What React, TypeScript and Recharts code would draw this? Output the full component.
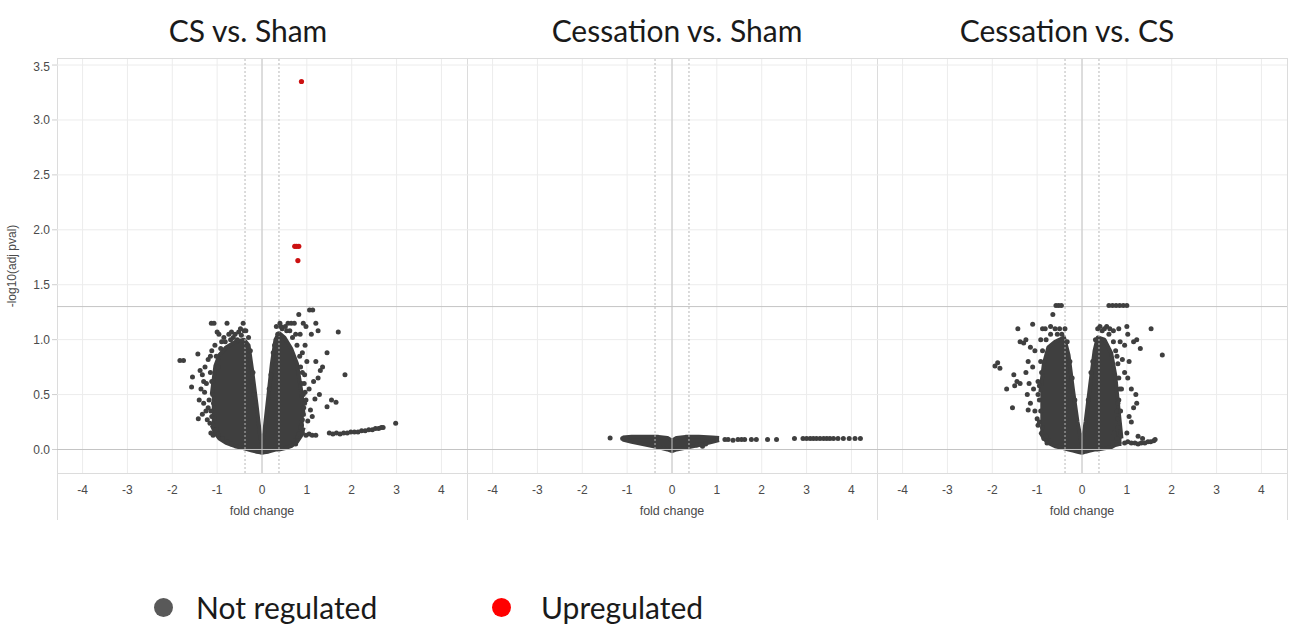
import React from 'react';
import {
  ComposedChart,
  Area,
  Scatter,
  XAxis,
  YAxis,
  CartesianGrid,
  ReferenceLine,
} from 'recharts';

// axis setup
const X_TICKS = [-4, -3, -2, -1, 0, 1, 2, 3, 4];
const Y_TICKS = [0, 0.5, 1, 1.5, 2, 2.5, 3, 3.5];
const X_DOMAIN = [-4.57, 4.57];
const Y_DOMAIN = [-0.214, 3.555];
const FC_CUT = 0.3785; // log2(1.3)
const P_CUT = 1.301; // -log10(0.05)

const panelTitles = ['CS vs. Sham', 'Cessation vs. Sham', 'Cessation vs. CS'];

// dense core of each cloud: [fold change, low, high]
const csShamCore = [
  [-1.12, 0.22, 0.5], [-1.04, 0.15, 0.76], [-0.95, 0.1, 0.86], [-0.8, 0.06, 0.93],
  [-0.6, 0.03, 0.98], [-0.4, 0.01, 1.0], [-0.3, 0.0, 0.95], [-0.22, -0.01, 0.72],
  [-0.12, -0.02, 0.4], [-0.04, -0.025, 0.12], [0, -0.03, 0.05], [0.05, -0.025, 0.15],
  [0.14, -0.02, 0.48], [0.22, -0.01, 0.78], [0.3, 0.0, 1.0], [0.38, 0.0, 1.06],
  [0.5, 0.01, 1.02], [0.65, 0.03, 0.92], [0.78, 0.07, 0.78], [0.88, 0.13, 0.52],
  [0.93, 0.2, 0.3],
];

// individual genes around the core: [fold change, -log10 p]
const csShamNot = [
  [-1.83, 0.81], [-1.75, 0.81], [-1.43, 0.87], [-1.55, 0.66], [-1.57, 0.57], [-1.42, 0.28],
  [-1.16, 0.24], [-1.14, 0.15], [-1.09, 0.13], [-1.38, 0.72], [-1.33, 0.68], [-1.3, 0.62],
  [-1.36, 0.55], [-1.28, 0.52], [-1.4, 0.45], [-1.3, 0.42], [-1.25, 0.35], [-1.33, 0.32],
  [-1.22, 0.27], [-1.27, 0.75], [-1.2, 0.82], [-1.24, 0.6], [-1.18, 0.45], [-1.2, 0.38],
  [-1.12, 0.3], [-1.08, 0.22], [-1.02, 0.18], [-0.97, 0.14],
  [-1.15, 0.7], [-1.12, 0.62], [-1.1, 0.5], [-1.08, 0.42], [-1.14, 0.35], [-1.06, 0.28],
  [-0.98, 0.75], [-1.02, 0.85], [-0.92, 0.92], [-0.82, 0.98], [-0.64, 1.02], [-0.48, 1.1],
  [-0.4, 1.08], [-0.34, 0.95], [-0.28, 0.82], [-0.23, 0.62], [-0.18, 0.5], [-0.15, 0.4],
  [-0.88, 0.1], [-0.78, 0.07], [-0.68, 0.05],
  [-1.13, 1.15], [-1.07, 1.15], [-0.78, 1.15], [-0.42, 1.15], [-1.0, 1.07], [-0.96, 1.05],
  [-0.74, 1.05], [-0.68, 1.07], [-0.6, 1.05], [-0.52, 1.07], [-0.46, 1.04], [-0.85, 1.02],
  [-0.9, 0.98], [-1.05, 0.95], [-1.12, 0.9], [-1.15, 0.85], [-0.7, 1.0], [-0.55, 1.0],
  [-0.36, 1.08], [-0.3, 1.02], [-0.26, 0.9], [-0.2, 0.7],
  [0.58, 1.15], [0.65, 1.15], [0.72, 1.15], [0.82, 1.23], [1.06, 1.27], [1.13, 1.27],
  [0.92, 1.15], [0.98, 1.12], [1.2, 1.15], [1.25, 1.08], [0.45, 1.1], [0.4, 1.15],
  [0.52, 1.12], [0.62, 1.08], [0.75, 1.05], [0.85, 1.05], [1.1, 1.05], [0.35, 1.05],
  [0.28, 0.95],
  [0.32, 1.12], [0.42, 1.12], [0.55, 1.08], [0.68, 1.02], [0.78, 0.95], [0.84, 0.85],
  [0.9, 0.7], [0.94, 0.6], [0.96, 0.52], [0.95, 0.42], [0.92, 0.32], [0.88, 0.22],
  [0.8, 0.12], [0.7, 0.08], [0.25, 0.88], [0.2, 0.68], [0.16, 0.55],
  [1.7, 1.07], [1.45, 0.88], [1.85, 0.68], [1.55, 0.45], [1.65, 0.43], [1.45, 0.39],
  [1.35, 0.75], [1.3, 0.72], [1.2, 0.8], [1.25, 0.65], [1.15, 0.62], [1.28, 0.5],
  [1.18, 0.46], [1.08, 0.36], [1.12, 0.3], [1.02, 0.26], [0.95, 0.68], [1.0, 0.8],
  [0.9, 0.88], [0.96, 0.95], [1.05, 0.55], [0.98, 0.45], [0.93, 0.38], [0.9, 0.27],
  [0.86, 0.2], [0.75, 0.05], [0.88, 0.6], [0.86, 0.75], [0.92, 0.5],
  [0.82, 0.14], [0.9, 0.15], [0.98, 0.13], [1.05, 0.14], [1.12, 0.13], [1.2, 0.13],
  [1.5, 0.15], [1.58, 0.14], [1.66, 0.15], [1.74, 0.14], [1.82, 0.15], [1.9, 0.15],
  [1.98, 0.16], [2.06, 0.16], [2.14, 0.16], [2.22, 0.17], [2.3, 0.17], [2.38, 0.18],
  [2.46, 0.18], [2.53, 0.19], [2.6, 0.19], [2.66, 0.2], [2.7, 0.2], [2.98, 0.24],
];

const csShamUp = [[0.88, 3.35], [0.73, 1.85], [0.77, 1.85], [0.82, 1.85], [0.8, 1.72]];

const cessShamCore = [
  [-1.1, 0.09, 0.11], [-0.9, 0.07, 0.115], [-0.6, 0.045, 0.115], [-0.3, 0.02, 0.115],
  [-0.1, 0.0, 0.105], [0, -0.015, 0.08], [0.1, 0.0, 0.105], [0.3, 0.015, 0.115],
  [0.6, 0.04, 0.115], [0.9, 0.07, 0.11], [1.05, 0.085, 0.105],
];

const cessShamNot = [
  [-1.38, 0.105], [-1.1, 0.1], [-1.05, 0.1], [1.18, 0.09], [1.25, 0.09], [1.36, 0.085],
  [1.47, 0.09], [1.55, 0.09], [1.62, 0.09], [1.77, 0.09], [1.88, 0.09], [2.13, 0.09],
  [2.33, 0.09], [2.73, 0.1], [2.92, 0.1], [3.0, 0.1], [3.08, 0.1], [3.15, 0.1],
  [3.22, 0.1], [3.3, 0.1], [3.38, 0.1], [3.45, 0.1], [3.52, 0.1], [3.6, 0.1],
  [3.7, 0.1], [3.82, 0.1], [3.95, 0.1], [4.08, 0.1], [4.2, 0.1], [0.55, 0.04],
  [0.75, 0.05], [0.68, 0.03],
];

const cessShamUp: number[][] = [];

const cessCsCore = [
  [-0.93, 0.16, 0.52], [-0.85, 0.1, 0.78], [-0.75, 0.06, 0.93], [-0.6, 0.03, 0.98],
  [-0.4, 0.01, 1.02], [-0.3, 0.0, 0.86], [-0.2, -0.01, 0.54], [-0.1, -0.02, 0.25],
  [0, -0.03, 0.04], [0.08, -0.02, 0.25], [0.18, -0.01, 0.58], [0.28, 0.0, 0.9],
  [0.35, 0.0, 1.02], [0.5, 0.01, 1.0], [0.65, 0.02, 0.88], [0.74, 0.04, 0.68],
  [0.83, 0.05, 0.3], [0.88, 0.05, 0.1],
];

const cessCsNot = [
  [-1.94, 0.76], [-1.88, 0.79], [-1.83, 0.74], [-1.68, 0.55], [-1.55, 0.38], [-1.52, 0.68],
  [-1.45, 0.62], [-1.38, 0.6], [-1.5, 0.58], [-1.43, 1.1], [-1.38, 0.98], [-1.3, 0.97],
  [-1.25, 1.0], [-1.1, 1.14], [-1.15, 0.93], [-1.05, 0.9], [-1.2, 0.8], [-1.1, 0.75],
  [-1.25, 0.7], [-1.18, 0.6], [-1.22, 0.5], [-1.15, 0.42], [-1.05, 0.35], [-1.0, 0.28],
  [-0.98, 0.22], [-0.95, 0.45], [-1.08, 0.55], [-0.9, 0.15], [-0.85, 0.1], [-0.78, 0.06],
  [-1.2, 0.36], [-0.88, 1.1], [-0.82, 1.1], [-0.7, 1.12], [-0.6, 1.1], [-0.5, 1.1],
  [-0.45, 1.05], [-0.65, 1.23], [-0.58, 1.31], [-0.52, 1.31], [-0.46, 1.31], [-0.92, 1.0],
  [-0.98, 0.62], [-0.9, 0.7],
  [-0.98, 0.5], [-0.95, 0.58], [-0.92, 0.8], [-0.88, 0.9], [-0.8, 1.0], [-0.7, 1.05],
  [-0.55, 1.05], [-0.38, 1.1], [-0.33, 0.98], [-0.27, 0.8], [-0.22, 0.65], [-0.16, 0.45],
  [-0.92, 0.35], [-0.95, 0.25], [-0.88, 0.2], [-0.8, 0.12], [-0.7, 0.08],
  [0.6, 1.31], [0.68, 1.31], [0.76, 1.31], [0.84, 1.31], [0.92, 1.31], [1.0, 1.31],
  [0.35, 1.1], [0.45, 1.08], [0.55, 1.12], [0.62, 1.1], [0.7, 1.08], [0.82, 1.1],
  [1.0, 1.12], [1.02, 1.05], [1.54, 1.1], [1.22, 1.0], [1.3, 0.92], [1.79, 0.86],
  [1.15, 0.98], [0.95, 0.95], [0.85, 0.98], [0.78, 0.85], [0.9, 0.82], [1.05, 0.8],
  [0.95, 0.7], [1.02, 0.65], [1.1, 0.55], [1.2, 0.5], [1.22, 0.42], [1.15, 0.38],
  [1.1, 0.25], [1.05, 0.3], [0.88, 0.55], [0.82, 0.45], [0.78, 0.35], [0.8, 0.2],
  [0.72, 0.15], [0.85, 0.12],
  [0.3, 1.0], [0.4, 1.12], [0.5, 1.1], [0.6, 1.05], [0.7, 0.98], [0.75, 0.9],
  [0.8, 0.78], [0.82, 0.65], [0.84, 0.55], [0.8, 0.42], [0.86, 0.35], [0.8, 0.28],
  [0.78, 0.1], [0.68, 0.06], [0.24, 0.8], [0.2, 0.7], [0.14, 0.45],
  [0.95, 0.06], [1.02, 0.07], [1.1, 0.06], [1.18, 0.06], [1.25, 0.05], [1.32, 0.06],
  [1.4, 0.06], [1.47, 0.07], [1.53, 0.07], [1.6, 0.08], [1.63, 0.09], [1.25, 0.12],
  [1.35, 0.1], [1.0, 0.15],
];

const cessCsUp: number[][] = [];

const GREY = '#3f3f3f';
const RED = '#cc1111';
const LINE = '#c4c4c4';
const GRID = '#ececec';
const TICK = { fontSize: 12, fill: '#4a4a4a', fontFamily: 'Liberation Sans, Arial, sans-serif' };

const dot = (color: string, r: number) => (p: any) =>
  <circle cx={p.cx} cy={p.cy} r={r} fill={color} />;

function Panel({ core, notReg, upReg, showY, left, width }: any) {
  const data = core.map(([x, lo, hi]: number[]) => ({ x, lo, hi }));
  const grey = notReg.map(([x, y]: number[]) => ({ x, y }));
  const red = upReg.map(([x, y]: number[]) => ({ x, y }));
  return (
    <div style={{ position: 'absolute', left, top: 59 }}>
      <ComposedChart width={width} height={461} data={data} margin={{ top: 0, right: 0, bottom: 0, left: 0 }}>
        <CartesianGrid stroke={GRID} horizontalValues={Y_TICKS} verticalValues={X_TICKS} />
        <XAxis
          type="number"
          dataKey="x"
          domain={X_DOMAIN}
          ticks={X_TICKS}
          allowDataOverflow
          height={47}
          tickLine={false}
          axisLine={false}
          tickMargin={6}
          tick={TICK}
          label={{ value: 'fold change', position: 'insideBottom', offset: 5, style: { ...TICK, fontSize: 12.5 } }}
        />
        <YAxis
          type="number"
          domain={Y_DOMAIN}
          ticks={Y_TICKS}
          allowDataOverflow
          hide={!showY}
          width={57}
          tickFormatter={(v: number) => v.toFixed(1)}
          tick={TICK}
          tickSize={5}
          tickLine={{ stroke: '#cfcfcf' }}
          axisLine={false}
          label={{
            value: '-log10(adj pval)',
            angle: -90,
            position: 'insideLeft',
            offset: 12,
            style: { ...TICK, fontSize: 12, textAnchor: 'middle' },
          }}
        />
        <Area
          dataKey={(d: any) => [d.lo, d.hi]}
          type="linear"
          fill={GREY}
          fillOpacity={1}
          stroke={GREY}
          strokeWidth={4}
          strokeLinejoin="round"
          isAnimationActive={false}
        />
        <Scatter data={grey} dataKey="y" shape={dot(GREY, 2.5)} isAnimationActive={false} />
        {red.length > 0 && (
          <Scatter data={red} dataKey="y" shape={dot(RED, 2.6)} isAnimationActive={false} />
        )}
        <ReferenceLine x={0} stroke={LINE} />
        <ReferenceLine x={-FC_CUT} stroke="#b8b8b8" strokeDasharray="2 2" />
        <ReferenceLine x={FC_CUT} stroke="#b8b8b8" strokeDasharray="2 2" />
        <ReferenceLine y={0} stroke={LINE} />
        <ReferenceLine y={P_CUT} stroke={LINE} />
      </ComposedChart>
    </div>
  );
}

const frame = (style: React.CSSProperties) => (
  <div style={{ position: 'absolute', background: '#dcdcdc', ...style }} />
);

export default function App() {
  const titleStyle: React.CSSProperties = {
    position: 'absolute',
    top: 10,
    width: 400,
    textAlign: 'center',
    fontFamily: 'Lato, sans-serif',
    fontSize: 30,
    lineHeight: '40px',
    color: '#1a1a1a',
  };
  const legendText: React.CSSProperties = {
    position: 'absolute',
    top: 587,
    fontFamily: 'Lato, sans-serif',
    fontSize: 30,
    lineHeight: '40px',
    color: '#1a1a1a',
  };
  return (
    <div style={{ position: 'absolute', left: 0, top: 0, width: 1291, height: 624, background: '#fff', overflow: 'hidden' }}>
      {frame({ left: 57, top: 58, width: 1231, height: 1 })}
      {frame({ left: 57, top: 473, width: 1231, height: 1 })}
      {frame({ left: 57, top: 58, width: 1, height: 462 })}
      {frame({ left: 467, top: 58, width: 1, height: 462 })}
      {frame({ left: 877, top: 58, width: 1, height: 462 })}
      {frame({ left: 1287, top: 58, width: 1, height: 462 })}

      <Panel core={csShamCore} notReg={csShamNot} upReg={csShamUp} showY left={0} width={467} />
      <Panel core={cessShamCore} notReg={cessShamNot} upReg={cessShamUp} showY={false} left={467} width={410} />
      <Panel core={cessCsCore} notReg={cessCsNot} upReg={cessCsUp} showY={false} left={877} width={410} />

      <div style={{ ...titleStyle, left: 48 }}>{panelTitles[0]}</div>
      <div style={{ ...titleStyle, left: 477 }}>{panelTitles[1]}</div>
      <div style={{ ...titleStyle, left: 867 }}>{panelTitles[2]}</div>

      <div style={{ position: 'absolute', left: 154, top: 598, width: 19, height: 19, borderRadius: '50%', background: '#595959' }} />
      <div style={{ ...legendText, left: 196 }}>Not regulated</div>
      <div style={{ position: 'absolute', left: 492, top: 598, width: 19, height: 19, borderRadius: '50%', background: '#ff0000' }} />
      <div style={{ ...legendText, left: 541 }}>Upregulated</div>
    </div>
  );
}
